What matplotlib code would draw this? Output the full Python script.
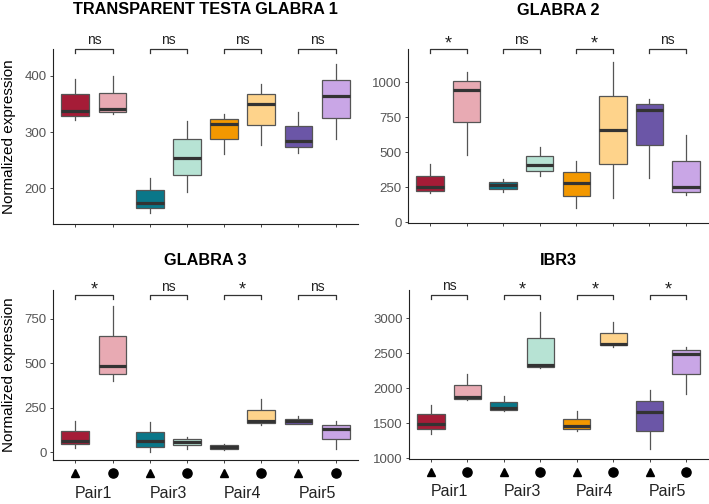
import numpy as np
import matplotlib
matplotlib.use('Agg')
import matplotlib.pyplot as plt
import matplotlib.transforms as mtransforms

plt.rcParams['font.family'] = ['Liberation Sans', 'DejaVu Sans']

# box stats per gene: [min, q1, median, q3, max] for the 8 groups
ttg1 = [[322, 329, 338, 367, 395], [332, 336, 341, 370, 400],
        [155, 164, 174, 196, 218], [193, 223, 254, 287, 320],
        [261, 287, 314, 323, 332], [277, 313, 350, 368, 385],
        [263, 273, 284, 310, 336], [287, 325, 364, 393, 421]]
gl2 = [[205, 221, 248, 331, 414], [479, 714, 945, 1012, 1074],
       [214, 238, 267, 290, 310], [329, 367, 412, 476, 540],
       [98, 190, 283, 360, 436], [174, 414, 660, 905, 1145],
       [312, 555, 805, 845, 883], [193, 217, 248, 436, 626]]
gl3 = [[21, 43, 64, 120, 177], [400, 440, 483, 652, 825],
       [2, 30, 60, 115, 167], [15, 39, 58, 73, 83],
       [13, 19, 28, 38, 45], [154, 162, 173, 235, 299],
       [156, 160, 177, 188, 203], [17, 71, 130, 152, 173]]
ibr3 = [[1345, 1416, 1492, 1629, 1761], [1832, 1851, 1875, 2040, 2206],
        [1676, 1695, 1723, 1804, 1889], [2286, 2310, 2329, 2712, 3090],
        [1392, 1416, 1454, 1567, 1681], [2593, 2612, 2631, 2792, 2948],
        [1128, 1392, 1662, 1813, 1974], [1922, 2206, 2494, 2541, 2589]]

genes = ['TRANSPARENT TESTA GLABRA 1', 'GLABRA 2', 'GLABRA 3', 'IBR3']
signif = [['ns', 'ns', 'ns', 'ns'],
          ['*', 'ns', '*', 'ns'],
          ['*', 'ns', '*', 'ns'],
          ['ns', '*', '*', '*']]
yticks = [[200, 300, 400], [0, 250, 500, 750, 1000],
          [0, 250, 500, 750], [1000, 1500, 2000, 2500, 3000]]
ylims = [(136, 448), (-7, 1240), (-45, 913), (990, 3402)]
pairs = ['Pair1', 'Pair3', 'Pair4', 'Pair5']
markers = ['^', 'o']
colors = ['#A51C37', '#E8AAB3', '#0A7789', '#B7E3D4',
          '#F39800', '#FED38B', '#6B56A7', '#C9A6E6']

W, H = 709, 504
fig = plt.figure(figsize=(W / 100, H / 100), dpi=100)

# axes boxes in pixels: left, right, top, bottom
boxes_px = [(53, 358, 49, 224), (408, 708, 49, 223),
            (53, 358, 290, 460), (409, 708, 290, 459)]
bracket_y = [1.0, 1.0, 0.97, 0.97]
title_y = [1.223, 1.224, 1.174, 1.174]

all_stats = [ttg1, gl2, gl3, ibr3]
pos = np.arange(1, 9)

for k, (l, r, t, b) in enumerate(boxes_px):
    ax = fig.add_axes([l / W, 1 - b / H, (r - l) / W, (b - t) / H])
    stats = []
    for s in all_stats[k]:
        stats.append({'whislo': s[0], 'q1': s[1], 'med': s[2], 'q3': s[3],
                      'whishi': s[4], 'fliers': []})
    bp = ax.bxp(stats, positions=pos, widths=0.75, patch_artist=True,
                showcaps=False, showfliers=False,
                boxprops=dict(edgecolor='#555555', linewidth=0.9),
                whiskerprops=dict(color='#555555', linewidth=0.9),
                medianprops=dict(color='#333333', linewidth=2.3,
                                 solid_capstyle='butt'))
    for patch, c in zip(bp['boxes'], colors):
        patch.set_facecolor(c)
    # whiskers behind boxes
    for w in bp['whiskers']:
        w.set_zorder(1)

    ax.set_xlim(0.4, 8.6)
    ax.set_ylim(*ylims[k])
    ax.set_yticks(yticks[k])
    ax.set_xticks(pos)
    ax.set_xticklabels([])
    for side in ['top', 'right']:
        ax.spines[side].set_visible(False)
    for side in ['left', 'bottom']:
        ax.spines[side].set_linewidth(0.8)
        ax.spines[side].set_color('#222222')
    ax.tick_params(axis='both', length=2.5, width=0.7, color='#444444',
                   labelsize=9.5, labelcolor='#555555', pad=2)

    ax.text(0.5, title_y[k], genes[k], transform=ax.transAxes,
            ha='center', va='center', fontsize=11.7, fontweight='bold')

    # significance brackets
    trans = mtransforms.blended_transform_factory(ax.transData, ax.transAxes)
    tip = 3.7 / (b - t)
    yb = bracket_y[k]
    for j, lab in enumerate(signif[k]):
        x1, x2 = pos[2 * j], pos[2 * j + 1]
        ax.plot([x1, x1, x2, x2], [yb - tip, yb, yb, yb - tip], color='#333333',
                lw=0.9, transform=trans, clip_on=False)
        if lab == '*':
            ax.annotate(lab, xy=((x1 + x2) / 2, yb), xycoords=trans,
                        xytext=(0, 0.3), textcoords='offset points',
                        ha='center', va='baseline', fontsize=13, color='#222222')
        else:
            ax.annotate(lab, xy=((x1 + x2) / 2, yb), xycoords=trans,
                        xytext=(0, 3.3), textcoords='offset points',
                        ha='center', va='baseline', fontsize=10, color='#222222')

    if k % 2 == 0:
        ax.text(-0.144, 0.5, 'Normalized expression', transform=ax.transAxes,
                rotation=90, ha='center', va='center', fontsize=11)

    if k >= 2:
        # triangle / circle under each box, pair name under each pair
        for j in range(8):
            ax.plot(pos[j], -0.075, marker=markers[j % 2], color='black',
                    markersize=6.2 if j % 2 == 0 else 6.6, transform=trans,
                    clip_on=False, linestyle='none')
        for j, p in enumerate(pairs):
            ax.text((pos[2 * j] + pos[2 * j + 1]) / 2, -0.195, p,
                    transform=trans, ha='center', va='center', fontsize=11.5,
                    color='#222222')

fig.savefig('out.png', dpi=100)
